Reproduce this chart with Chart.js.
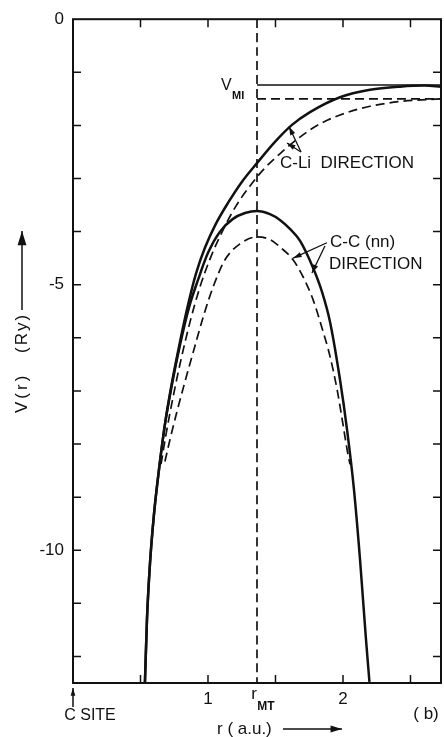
<!DOCTYPE html>
<html>
<head>
<meta charset="utf-8">
<script src="https://cdn.jsdelivr.net/npm/chart.js@4.4.0/dist/chart.umd.min.js"></script>
<style>
  html, body { margin: 0; padding: 0; background: #fff; }
  #wrap { width: 444px; height: 737px; position: relative; }
</style>
</head>
<body>
<div id="wrap"><canvas id="grafica"></canvas></div>
<script>
// radio r (a.u.) y potencial V (Ry)
const cliSolidR = [0.533, 0.548, 0.570, 0.600, 0.637, 0.681, 0.733, 0.793, 0.852, 0.911, 0.978, 1.059, 1.148, 1.252, 1.363, 1.496, 1.622, 1.756, 1.978, 2.200, 2.422, 2.607, 2.726];
const cliSolidV = [-12.48, -11.30, -10.26, -9.32, -8.48, -7.63, -6.84, -6.07, -5.38, -4.79, -4.30, -3.85, -3.46, -3.06, -2.71, -2.31, -1.99, -1.75, -1.47, -1.33, -1.27, -1.25, -1.27];

const cliDashR = [0.652, 0.689, 0.741, 0.800, 0.867, 0.941, 1.022, 1.111, 1.207, 1.311, 1.422, 1.548, 1.681, 1.830, 2.015, 2.200, 2.422, 2.726];
const cliDashV = [-8.38, -7.82, -7.12, -6.41, -5.70, -5.04, -4.47, -3.97, -3.52, -3.14, -2.80, -2.50, -2.22, -1.97, -1.77, -1.64, -1.55, -1.50];

const ccSolidR = [0.533, 0.548, 0.570, 0.600, 0.637, 0.681, 0.733, 0.793, 0.859, 0.926, 1.000, 1.089, 1.185, 1.274, 1.363, 1.459, 1.533, 1.607, 1.681, 1.778, 1.844, 1.904, 1.978, 2.030, 2.081, 2.126, 2.170, 2.196];
const ccSolidV = [-12.48, -11.30, -10.26, -9.32, -8.48, -7.63, -6.88, -6.13, -5.43, -4.91, -4.40, -4.00, -3.76, -3.65, -3.61, -3.67, -3.78, -3.95, -4.17, -4.68, -5.13, -5.70, -6.79, -7.73, -8.85, -10.17, -11.67, -12.48];

const ccDashR = [0.681, 0.719, 0.770, 0.830, 0.896, 0.970, 1.044, 1.126, 1.237, 1.363, 1.459, 1.533, 1.630, 1.704, 1.778, 1.844, 1.904, 1.956, 2.000, 2.037, 2.052];
const ccDashV = [-8.33, -7.91, -7.39, -6.82, -6.22, -5.56, -5.00, -4.53, -4.23, -4.10, -4.15, -4.29, -4.53, -4.85, -5.28, -5.81, -6.35, -6.97, -7.63, -8.20, -8.38];

const rMT = 1.363;
const vmiSolid = -1.24;
const vmiDash = -1.50;
const rMax = 2.726;
const vMin = -12.5;

const xTicks = [0.5, 1, 1.5, 2, 2.5];
const yTicks = [-1, -2, -3, -4, -5, -6, -7, -8, -9, -10, -11, -12];
const yLabels = [0, -5, -10];
const xLabels = [1, 2];

function pares(rs, vs) {
    return rs.map(function(r, i) { return { x: r, y: vs[i] }; });
}

const FUENTE = '"Liberation Sans", Arial, sans-serif';

function serie(datos, discontinua) {
    return {
        data: datos,
        showLine: true,
        pointRadius: 0,
        borderColor: '#111',
        borderWidth: discontinua ? 1.7 : 2.5,
        borderDash: discontinua ? [9, 5] : [],
        cubicInterpolationMode: 'monotone',
        fill: false
    };
}

function flecha(ctx, x1, y1, x2, y2, tam) {
    ctx.beginPath();
    ctx.moveTo(x1, y1);
    ctx.lineTo(x2, y2);
    ctx.stroke();
    const ang = Math.atan2(y2 - y1, x2 - x1);
    ctx.beginPath();
    ctx.moveTo(x2, y2);
    ctx.lineTo(x2 - tam * Math.cos(ang - 0.3), y2 - tam * Math.sin(ang - 0.3));
    ctx.lineTo(x2 - tam * Math.cos(ang + 0.3), y2 - tam * Math.sin(ang + 0.3));
    ctx.closePath();
    ctx.fill();
}

const extras = {
    id: 'extras',
    afterDraw(chart) {
        const ctx = chart.ctx;
        const a = chart.chartArea;
        const xs = chart.scales.x;
        const ys = chart.scales.y;
        const px = v => xs.getPixelForValue(v);
        const py = v => ys.getPixelForValue(v);
        ctx.save();
        ctx.strokeStyle = '#111';
        ctx.fillStyle = '#111';

        // marco
        ctx.lineWidth = 2;
        ctx.strokeRect(a.left, a.top, a.right - a.left, a.bottom - a.top);

        // marcas hacia adentro
        ctx.lineWidth = 1.5;
        ctx.beginPath();
        xTicks.forEach(function(t) {
            ctx.moveTo(px(t), a.bottom); ctx.lineTo(px(t), a.bottom - 8);
            ctx.moveTo(px(t), a.top); ctx.lineTo(px(t), a.top + 8);
        });
        yTicks.forEach(function(t) {
            ctx.moveTo(a.left, py(t)); ctx.lineTo(a.left + 8, py(t));
            ctx.moveTo(a.right, py(t)); ctx.lineTo(a.right - 8, py(t));
        });
        ctx.stroke();

        // V_MI
        ctx.textBaseline = 'middle';
        ctx.textAlign = 'left';
        ctx.font = '16px ' + FUENTE;
        ctx.fillText('V', px(rMT) - 36, py(vmiSolid) + 1);
        ctx.font = 'bold 11px ' + FUENTE;
        ctx.fillText('MI', px(rMT) - 25, py(vmiSolid) + 11);

        // etiquetas de curvas
        ctx.font = '17px ' + FUENTE;
        ctx.fillText('C-Li  DIRECTION', px(1.533), py(-2.71));
        ctx.fillText('C-C (nn)', px(1.904), py(-4.21));
        ctx.fillText('DIRECTION', px(1.896), py(-4.62));

        ctx.lineWidth = 1.3;
        flecha(ctx, px(1.689), py(-2.50), px(1.60), py(-2.02), 9);
        flecha(ctx, px(1.689), py(-2.50), px(1.585), py(-2.33), 9);
        flecha(ctx, px(1.881), py(-4.21), px(1.63), py(-4.50), 9);
        flecha(ctx, px(1.866), py(-4.27), px(1.77), py(-4.78), 9);

        // r_MT bajo el eje
        ctx.font = '17px ' + FUENTE;
        ctx.textAlign = 'center';
        ctx.fillText('r', px(rMT) - 3, a.bottom + 11);
        ctx.font = 'bold 12px ' + FUENTE;
        ctx.fillText('MT', px(rMT) + 9, a.bottom + 24);

        // (b), r (a.u.), C SITE
        ctx.font = '17px ' + FUENTE;
        ctx.fillText('( b)', 426, 714);
        ctx.textAlign = 'left';
        ctx.fillText('r ( a.u.)', 217, 729);
        ctx.lineWidth = 1.5;
        flecha(ctx, 283, 729, 342, 729, 12);
        ctx.textAlign = 'center';
        ctx.font = '16px ' + FUENTE;
        ctx.fillText('C SITE', 90, 716);
        flecha(ctx, a.left, 707, a.left, 688, 8);

        // titulo eje y
        ctx.translate(22, 413);
        ctx.rotate(-Math.PI / 2);
        ctx.textAlign = 'left';
        ctx.font = '17px ' + FUENTE;
        ctx.letterSpacing = '3px';
        ctx.fillText('V(r)', 0, 0);
        ctx.letterSpacing = '2px';
        ctx.fillText('(Ry)', 60, 0);
        ctx.letterSpacing = '0px';
        flecha(ctx, 103, 0, 182, 0, 15);
        ctx.restore();
    }
};

new Chart(document.getElementById('grafica'), {
    type: 'scatter',
    data: {
        datasets: [
            serie(pares(cliSolidR, cliSolidV), false),
            serie(pares(cliDashR, cliDashV), true),
            serie(pares(ccSolidR, ccSolidV), false),
            serie(pares(ccDashR, ccDashV), true),
            serie([{ x: rMT, y: 0 }, { x: rMT, y: vMin }], true),
            { ...serie([{ x: rMT, y: vmiSolid }, { x: rMax, y: vmiSolid }], false), borderWidth: 1.6 },
            serie([{ x: rMT, y: vmiDash }, { x: rMax, y: vmiDash }], true)
        ]
    },
    options: {
        responsive: true,
        maintainAspectRatio: false,
        animation: false,
        layout: { padding: { top: 19, right: 3, left: 0, bottom: 0 } },
        plugins: {
            legend: { display: false },
            tooltip: { enabled: false }
        },
        scales: {
            x: {
                type: 'linear',
                min: 0,
                max: rMax,
                grid: { display: false, drawTicks: false },
                border: { display: false },
                afterFit: function(scale) { scale.height = 54; },
                ticks: {
                    stepSize: 0.5,
                    includeBounds: false,
                    padding: 6,
                    color: '#111',
                    font: { family: FUENTE, size: 17 },
                    callback: function(v) { return xLabels.includes(v) ? String(v) : ''; }
                }
            },
            y: {
                type: 'linear',
                min: vMin,
                max: 0,
                grid: { display: false, drawTicks: false },
                border: { display: false },
                afterFit: function(scale) { scale.width = 73; },
                ticks: {
                    stepSize: 1,
                    includeBounds: false,
                    padding: 9,
                    color: '#111',
                    font: { family: FUENTE, size: 17 },
                    callback: function(v) { return yLabels.includes(v) ? (v === 0 ? '0' : '-' + Math.abs(v)) : ''; }
                }
            }
        }
    },
    plugins: [extras]
});
</script>
</body>
</html>
